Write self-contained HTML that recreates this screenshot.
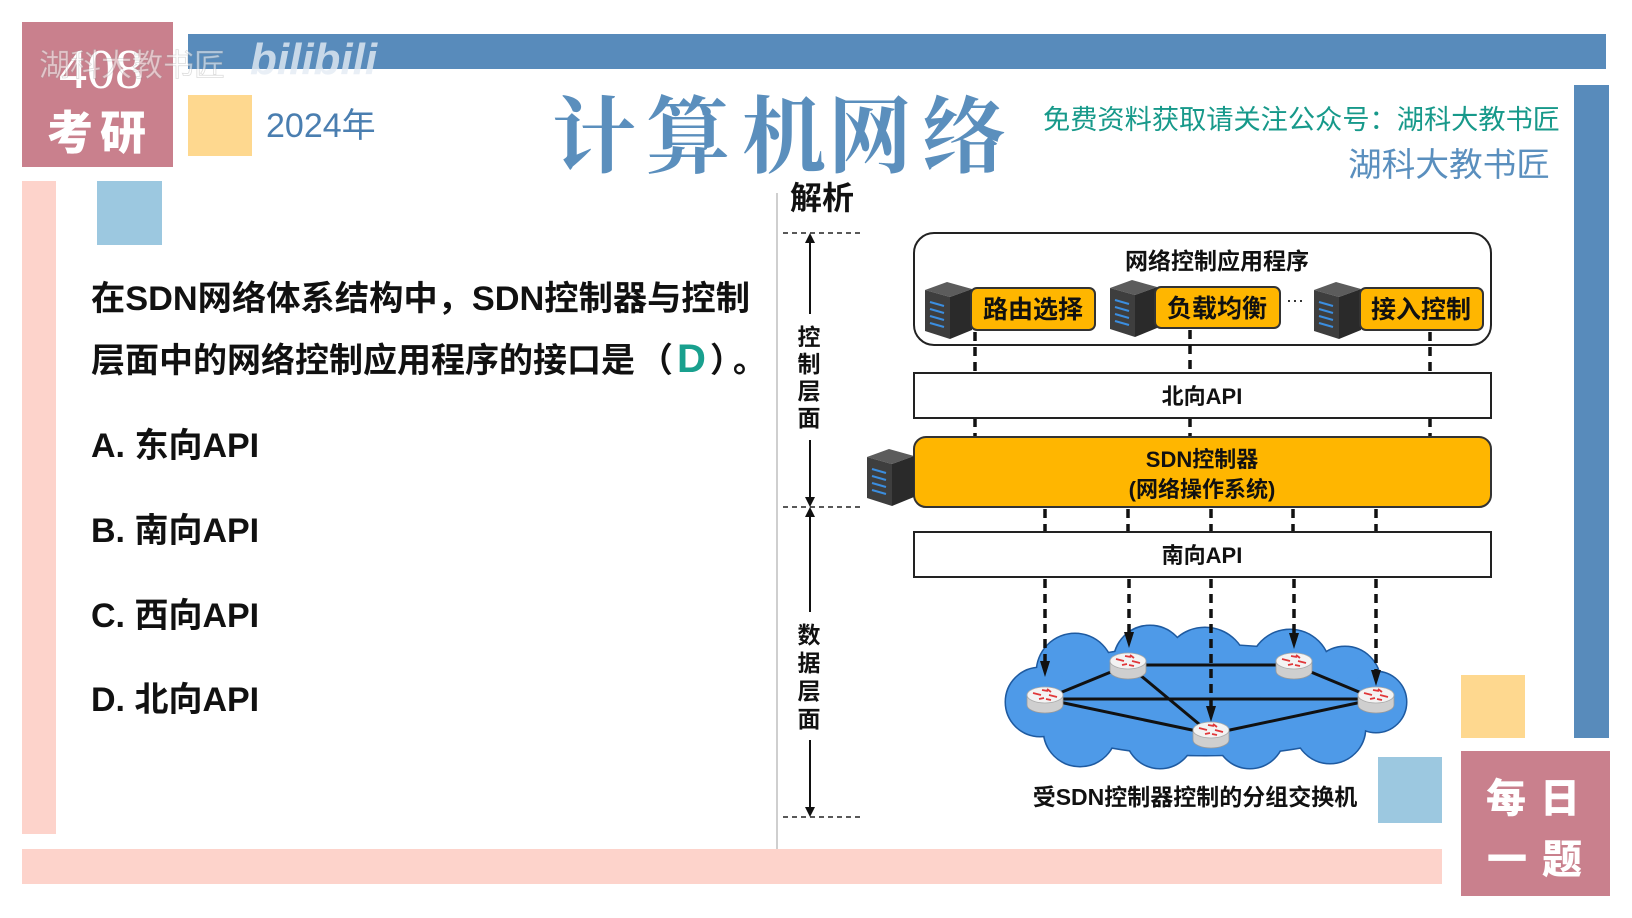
<!DOCTYPE html>
<html><head><meta charset="utf-8"><style>
html,body{margin:0;padding:0;background:#fff;}
body{width:1632px;height:918px;overflow:hidden;position:relative;}
svg{position:absolute;left:0;top:0;}
.cj{font-family:"Liberation Sans","Noto Sans CJK SC",sans-serif;}
</style></head><body>
<svg width="1632" height="918" viewBox="0 0 1632 918" xmlns="http://www.w3.org/2000/svg">
<defs>
<g id="srv">
<path d="M0,8 L22,0 L47,7 L25,15 Z" fill="#5c5c5c"/>
<path d="M0,8 L25,15 L25,57 L0,49 Z" fill="#3e3e3e"/>
<path d="M25,15 L47,7 L47,48 L25,57 Z" fill="#2a2a2a"/>
<g stroke="#3b8ee0" stroke-width="2">
<line x1="5" y1="20" x2="19" y2="24"/><line x1="5" y1="27" x2="19" y2="31"/>
<line x1="5" y1="34" x2="19" y2="38"/><line x1="5" y1="41" x2="19" y2="45"/>
</g>
</g>
<g id="rtr">
<path d="M-18,-5 L-18,5 A18,8 0 0 0 18,5 L18,-5 Z" fill="#cfcfcf" stroke="#9a9a9a" stroke-width="0.8"/>
<ellipse cx="0" cy="-5" rx="18" ry="8" fill="#f3f3f3" stroke="#aaa" stroke-width="0.8"/>
<g stroke="#e0383a" stroke-width="1.8" fill="none">
<line x1="-12" y1="-7" x2="-4" y2="-5"/><line x1="4" y1="-5" x2="12" y2="-3"/>
<line x1="-3" y1="-10" x2="3" y2="-9"/><line x1="-6" y1="-1" x2="-1" y2="-2"/>
<line x1="2" y1="-11" x2="6" y2="-8"/><line x1="1" y1="-1" x2="6" y2="0"/>
</g>
</g>
</defs>

<!-- decorative frame -->
<rect x="22" y="22" width="151" height="145" fill="#c9808d"/>
<rect x="188" y="34" width="1418" height="35" fill="#588bbb"/>
<rect x="188" y="95" width="64" height="61" fill="#fed88f"/>
<rect x="97" y="181" width="65" height="64" fill="#9cc8e0"/>
<rect x="22" y="181" width="34" height="653" fill="#fdd3cb"/>
<rect x="22" y="849" width="1420" height="35" fill="#fdd3cb"/>
<rect x="1574" y="85" width="35" height="653" fill="#588bbb"/>
<rect x="1461" y="675" width="64" height="63" fill="#fed88f"/>
<rect x="1378" y="757" width="64" height="66" fill="#9cc8e0"/>
<rect x="1461" y="751" width="149" height="145" fill="#c9808d"/>

<!-- 408 考研 -->
<text x="101" y="88" font-family="Liberation Serif, serif" font-size="56" fill="#fff" text-anchor="middle">408</text>
<text x="70" y="149" class="cj" font-size="46" font-weight="900" fill="#fff" text-anchor="middle">考</text>
<text x="123" y="149" class="cj" font-size="46" font-weight="900" fill="#fff" text-anchor="middle">研</text>
<!-- watermark -->
<text x="39" y="76" class="cj" font-size="31" fill="rgba(255,255,255,0.55)" stroke="rgba(140,140,140,0.3)" stroke-width="0.8">湖科大教书匠</text>
<text x="250" y="74" font-family="Liberation Sans, sans-serif" font-size="44" font-weight="bold" font-style="italic" fill="rgba(228,235,244,0.8)">bilibili</text>

<text x="266" y="137" class="cj" font-size="34" fill="#4a7eb0">2024年</text>

<!-- title -->
<g font-family="'Noto Serif CJK SC','Liberation Serif',serif" font-size="84" font-weight="bold" fill="#5b8fbd" text-anchor="middle">
<text x="594" y="166">计</text><text x="688" y="166">算</text><text x="784" y="166">机</text><text x="870" y="166">网</text><text x="964" y="166">络</text>
</g>
<text x="1043" y="129" class="cj" font-size="27" fill="#17998a" textLength="517" lengthAdjust="spacingAndGlyphs">免费资料获取请关注公众号：湖科大教书匠</text>
<text x="1348" y="176" class="cj" font-size="33" fill="#5a8fbe" textLength="202" lengthAdjust="spacingAndGlyphs">湖科大教书匠</text>

<!-- 每日一题 -->
<g class="cj" font-size="40" font-weight="900" fill="#fff" text-anchor="middle">
<text x="1506" y="812">每</text><text x="1560" y="812">日</text>
<text x="1507" y="873">一</text><text x="1562" y="873">题</text>
</g>

<!-- separator -->
<line x1="777" y1="193" x2="777" y2="849" stroke="#cfcfcf" stroke-width="2"/>
<text x="790" y="209" class="cj" font-size="32" font-weight="bold" fill="#111">解析</text>

<!-- question -->
<g class="cj" font-size="34" font-weight="bold" fill="#111">
<text x="91" y="310" textLength="659" lengthAdjust="spacingAndGlyphs">在SDN网络体系结构中，SDN控制器与控制</text>
<text x="91" y="372">层面中的网络控制应用程序的接口是<tspan dx="4">（</tspan><tspan dx="4" fill="#19a08e" font-size="40">D</tspan><tspan dx="4">）</tspan><tspan dx="6">。</tspan></text>
<text x="91" y="457">A. 东向API</text>
<text x="91" y="542">B. 南向API</text>
<text x="91" y="627">C. 西向API</text>
<text x="91" y="711">D. 北向API</text>
</g>

<!-- left plane indicators -->
<g stroke="#222" stroke-width="1.5" stroke-dasharray="5 4">
<line x1="783" y1="233" x2="862" y2="233"/>
<line x1="783" y1="507" x2="862" y2="507"/>
<line x1="783" y1="817" x2="862" y2="817"/>
</g>
<g stroke="#111" stroke-width="2">
<line x1="810" y1="240" x2="810" y2="314"/>
<line x1="810" y1="440" x2="810" y2="500"/>
<line x1="810" y1="514" x2="810" y2="612"/>
<line x1="810" y1="740" x2="810" y2="810"/>
</g>
<g fill="#111">
<path d="M810,233 L805,243 L815,243 Z"/><path d="M810,507 L805,497 L815,497 Z"/>
<path d="M810,507 L805,517 L815,517 Z"/><path d="M810,817 L805,807 L815,807 Z"/>
</g>
<g class="cj" font-size="23" font-weight="bold" fill="#111" text-anchor="middle">
<text x="809" y="345">控</text><text x="809" y="372">制</text><text x="809" y="399">层</text><text x="809" y="426">面</text>
<text x="809" y="643">数</text><text x="809" y="671">据</text><text x="809" y="699">层</text><text x="809" y="727">面</text>
</g>

<!-- app box -->
<rect x="914" y="233" width="577" height="112" rx="20" fill="#fff" stroke="#222" stroke-width="2"/>
<text x="1217" y="269" class="cj" font-size="23" font-weight="bold" fill="#111" text-anchor="middle">网络控制应用程序</text>
<use href="#srv" x="925" y="282"/>
<use href="#srv" x="1110" y="280"/>
<use href="#srv" x="1314" y="282"/>
<g fill="#ffb600" stroke="#333" stroke-width="2">
<rect x="971" y="288" width="124" height="42" rx="6"/>
<rect x="1155" y="287" width="125" height="41" rx="6"/>
<rect x="1360" y="288" width="123" height="42" rx="6"/>
</g>
<g class="cj" font-size="25" font-weight="bold" fill="#111" text-anchor="middle">
<text x="1033" y="318">路由选择</text>
<text x="1217" y="317">负载均衡</text>
<text x="1421" y="318">接入控制</text>
</g>
<text x="1295" y="306" font-family="Liberation Sans, sans-serif" font-size="18" fill="#111" text-anchor="middle">···</text>

<!-- north connectors -->
<g stroke="#111" stroke-width="3.5" stroke-dasharray="9 6">
<line x1="975" y1="332" x2="975" y2="373"/><line x1="1190" y1="330" x2="1190" y2="373"/><line x1="1430" y1="332" x2="1430" y2="373"/>
<line x1="975" y1="418" x2="975" y2="437"/><line x1="1190" y1="418" x2="1190" y2="437"/><line x1="1430" y1="418" x2="1430" y2="437"/>
</g>

<rect x="914" y="373" width="577" height="45" fill="#fff" stroke="#222" stroke-width="2"/>
<text x="1202" y="404" class="cj" font-size="22" font-weight="bold" fill="#111" text-anchor="middle">北向API</text>

<rect x="914" y="437" width="577" height="70" rx="12" fill="#ffb600" stroke="#333" stroke-width="2"/>
<use href="#srv" x="867" y="449"/>
<g class="cj" font-size="22" font-weight="bold" fill="#111" text-anchor="middle">
<text x="1202" y="467">SDN控制器</text>
<text x="1202" y="497">(网络操作系统)</text>
</g>

<g stroke="#111" stroke-width="3.5" stroke-dasharray="9 6">
<line x1="1045" y1="509" x2="1045" y2="532"/><line x1="1128" y1="509" x2="1128" y2="532"/><line x1="1211" y1="509" x2="1211" y2="532"/><line x1="1293" y1="509" x2="1293" y2="532"/><line x1="1376" y1="509" x2="1376" y2="532"/>
</g>

<rect x="914" y="532" width="577" height="45" fill="#fff" stroke="#222" stroke-width="2"/>
<text x="1202" y="563" class="cj" font-size="22" font-weight="bold" fill="#111" text-anchor="middle">南向API</text>

<!-- cloud -->
<g fill="#4e9ae8" stroke="#1e5aa0" stroke-width="3">
<ellipse cx="1206" cy="700" rx="185" ry="55"/>
<circle cx="1075" cy="672" r="38"/><circle cx="1150" cy="662" r="36"/><circle cx="1205" cy="670" r="42"/>
<circle cx="1290" cy="670" r="40"/><circle cx="1345" cy="682" r="35"/><circle cx="1376" cy="702" r="30"/>
<circle cx="1040" cy="702" r="34"/><circle cx="1080" cy="730" r="36"/><circle cx="1160" cy="734" r="34"/>
<circle cx="1250" cy="734" r="34"/><circle cx="1330" cy="728" r="35"/>
</g>
<g fill="#4e9ae8">
<ellipse cx="1206" cy="700" rx="185" ry="55"/>
<circle cx="1075" cy="672" r="38"/><circle cx="1150" cy="662" r="36"/><circle cx="1205" cy="670" r="42"/>
<circle cx="1290" cy="670" r="40"/><circle cx="1345" cy="682" r="35"/><circle cx="1376" cy="702" r="30"/>
<circle cx="1040" cy="702" r="34"/><circle cx="1080" cy="730" r="36"/><circle cx="1160" cy="734" r="34"/>
<circle cx="1250" cy="734" r="34"/><circle cx="1330" cy="728" r="35"/>
</g>

<!-- links -->
<g stroke="#111" stroke-width="3">
<line x1="1045" y1="699" x2="1128" y2="665"/>
<line x1="1128" y1="665" x2="1294" y2="665"/>
<line x1="1045" y1="699" x2="1376" y2="699"/>
<line x1="1045" y1="699" x2="1211" y2="734"/>
<line x1="1128" y1="665" x2="1211" y2="734"/>
<line x1="1294" y1="665" x2="1376" y2="699"/>
<line x1="1211" y1="734" x2="1376" y2="699"/>
</g>

<!-- south arrows -->
<g stroke="#111" stroke-width="3.5" stroke-dasharray="9 6">
<line x1="1045" y1="579" x2="1045" y2="663"/>
<line x1="1129" y1="579" x2="1129" y2="634"/>
<line x1="1211" y1="579" x2="1211" y2="708"/>
<line x1="1294" y1="579" x2="1294" y2="635"/>
<line x1="1376" y1="579" x2="1376" y2="672"/>
</g>
<g fill="#111">
<path d="M1045,677 L1040,661 L1050,661 Z"/>
<path d="M1129,648 L1124,632 L1134,632 Z"/>
<path d="M1211,722 L1206,706 L1216,706 Z"/>
<path d="M1294,649 L1289,633 L1299,633 Z"/>
<path d="M1376,686 L1371,670 L1381,670 Z"/>
</g>

<!-- routers -->
<use href="#rtr" x="1045" y="700"/>
<use href="#rtr" x="1128" y="666"/>
<use href="#rtr" x="1294" y="666"/>
<use href="#rtr" x="1376" y="700"/>
<use href="#rtr" x="1211" y="735"/>

<text x="1195" y="805" class="cj" font-size="23" font-weight="bold" fill="#111" text-anchor="middle">受SDN控制器控制的分组交换机</text>
</svg>
</body></html>
